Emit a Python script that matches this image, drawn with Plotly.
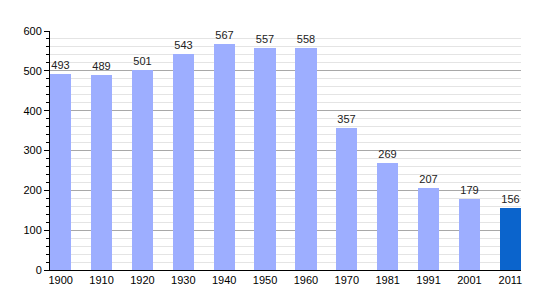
import plotly.graph_objects as go

years = ["1900", "1910", "1920", "1930", "1940", "1950", "1960", "1970", "1981", "1991", "2001", "2011"]
population = [493, 489, 501, 543, 567, 557, 558, 357, 269, 207, 179, 156]
bar_colors = ["#9daeff"] * 11 + ["#0b64cc"]

xpos = list(range(len(years)))

fig = go.Figure()
fig.add_trace(go.Bar(
    x=xpos, y=population, width=0.52,
    marker=dict(color=bar_colors, line=dict(width=0)),
    text=[str(v) for v in population], textposition="outside",
    textfont=dict(family="Liberation Sans, Arial, sans-serif", size=11, color="#222"),
    cliponaxis=False,
))

fig.update_layout(
    width=550, height=300,
    margin=dict(l=50, r=29, t=31, b=30),
    paper_bgcolor="white", plot_bgcolor="white",
    showlegend=False,
    bargap=0,
    font=dict(family="Liberation Sans, Arial, sans-serif", size=11, color="#000"),
)
fig.update_xaxes(
    range=[-0.26, 11.26], tickvals=xpos, ticktext=years,
    showgrid=False, showline=True, linecolor="#000", linewidth=1,
    ticks="", zeroline=False, tickfont=dict(size=11),
)
fig.update_yaxes(
    range=[0, 600], dtick=100, tick0=0,
    showgrid=True, gridcolor="#a8a8a8", gridwidth=1,
    showline=True, linecolor="#000", linewidth=1,
    ticks="outside", ticklen=5, tickcolor="#000",
    zeroline=False, tickfont=dict(size=11),
    minor=dict(dtick=20, ticks="outside", ticklen=3, tickcolor="#000",
               showgrid=True, gridcolor="#e4e4e4", gridwidth=1),
)

fig.write_html("out.html")
